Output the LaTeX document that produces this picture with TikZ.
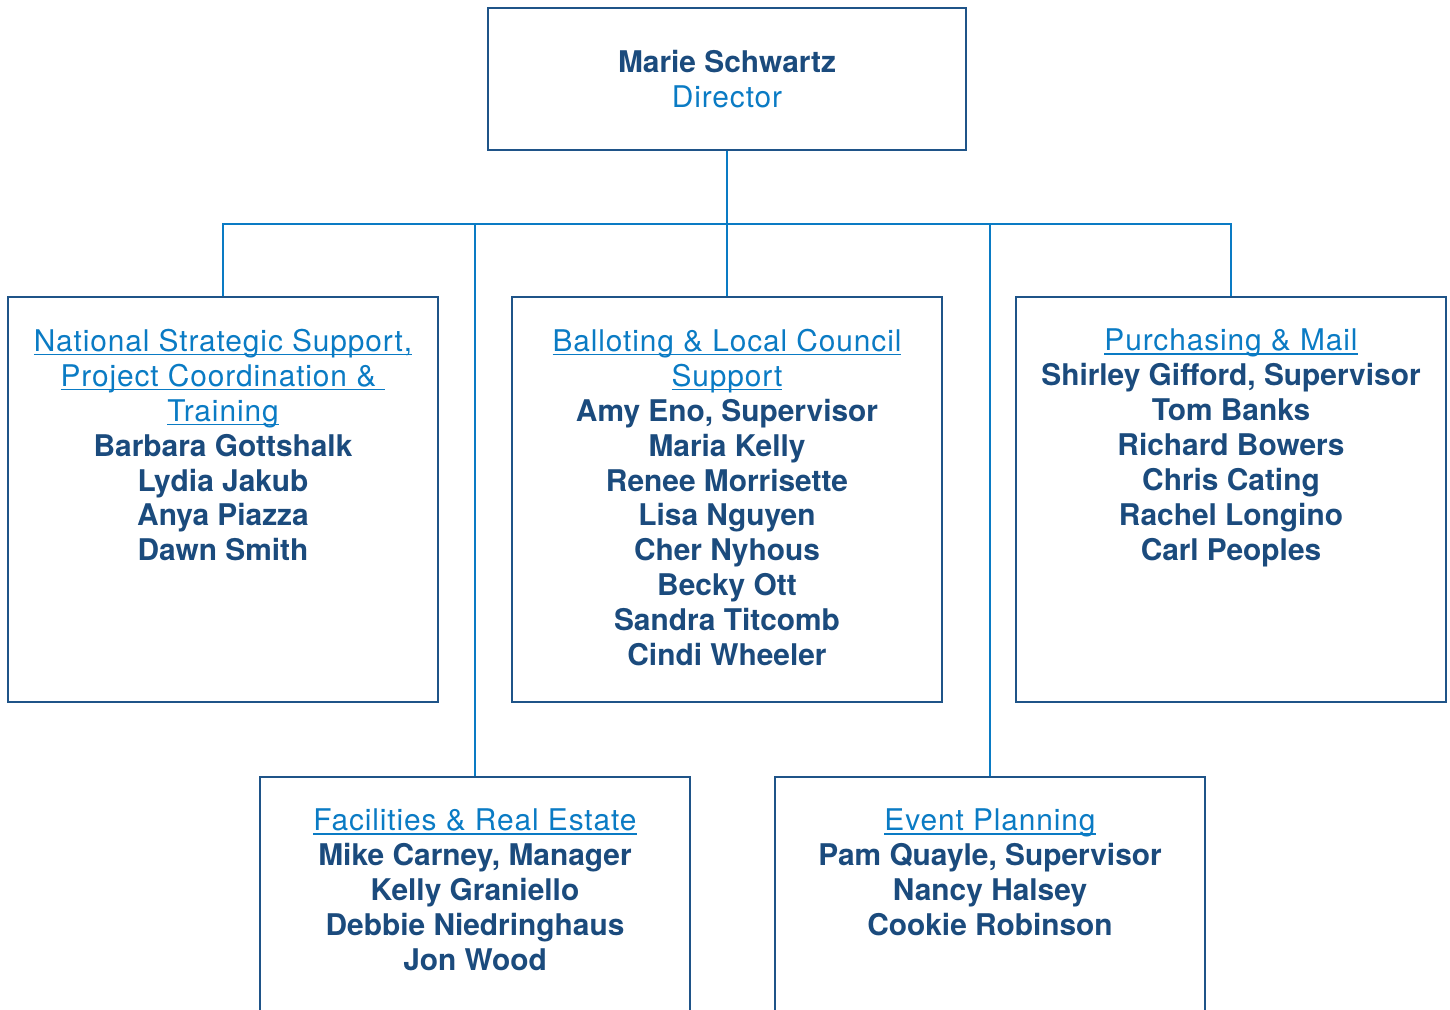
\documentclass[tikz,border=0pt]{standalone}
\usepackage{fontspec}
\setmainfont{TeX Gyre Heros}
\newfontfamily\hdfont{TeX Gyre Heros}[LetterSpace=3]
\usetikzlibrary{positioning}

\definecolor{navy}{HTML}{1B4B7D}
\definecolor{edge}{HTML}{1F5488}
\definecolor{sky}{HTML}{0A7BC4}

\newcommand\hd[1]{{\color{sky}\hdfont\mdseries\setbox0\hbox{#1}\rlap{\rule[-2.4pt]{\wd0}{0.9pt}}\box0}}

\begin{document}
\begin{tikzpicture}
[x=0.02cm,y=-0.02cm]
\tikzset{box/.style={draw=edge,line width=1.4pt,anchor=north,minimum width=8.6cm,minimum height=8.1cm,inner sep=0pt}}
\tikzset{txt/.style={align=center,inner sep=0pt,text=navy,font=\fontsize{17}{19.9}\selectfont\bfseries}}
\tikzset{conn/.style={draw=sky,line width=1.3pt}}
\useasboundingbox (0,0) rectangle (1450,1010);

\node [draw=edge,line width=1.4pt,minimum width=9.56cm,minimum height=2.84cm,txt] (dir) at (727,79)
  {Marie Schwartz\\{\color{sky}\hdfont\mdseries Director}};

\node [box] (nss) at (223,296) {};
\node [box] (blc) at (727,296) {};
\node [box] (pm) at (1231,296) {};
\node [box,minimum height=8cm] (fre) at (475,776) {};
\node [box,minimum height=8cm] (ev) at (990,776) {};

\node [txt,below=6.5mm of nss.north] (nsst) {\hd{National Strategic Support,}\\\hd{Project Coordination \& }\\\hd{Training}\\
  Barbara Gottshalk\\Lydia Jakub\\Anya Piazza\\Dawn Smith};
\node [txt,below=6.5mm of blc.north] (blct) {\hd{Balloting \& Local Council}\\\hd{Support}\\
  Amy Eno, Supervisor\\Maria Kelly\\Renee Morrisette\\Lisa Nguyen\\Cher Nyhous\\Becky Ott\\Sandra Titcomb\\Cindi Wheeler};
\node [txt,below=6.5mm of pm.north] (pmt) {\hd{Purchasing \& Mail}\\
  Shirley Gifford, Supervisor\\Tom Banks\\Richard Bowers\\Chris Cating\\Rachel Longino\\Carl Peoples};
\node [txt,below=6.5mm of fre.north] (fret) {\hd{Facilities \& Real Estate}\\
  Mike Carney, Manager\\Kelly Graniello\\Debbie Niedringhaus\\Jon Wood};
\node [txt,below=6.5mm of ev.north] (evt) {\hd{Event Planning}\\
  Pam Quayle, Supervisor\\Nancy Halsey\\Cookie Robinson};

\coordinate (hub) at (727,224);
\draw [conn] (dir) -- (hub);
\foreach \b in {nss,blc,pm,fre,ev}
	\draw [conn] (hub) -| (\b.north);

\end{tikzpicture}
\end{document}
